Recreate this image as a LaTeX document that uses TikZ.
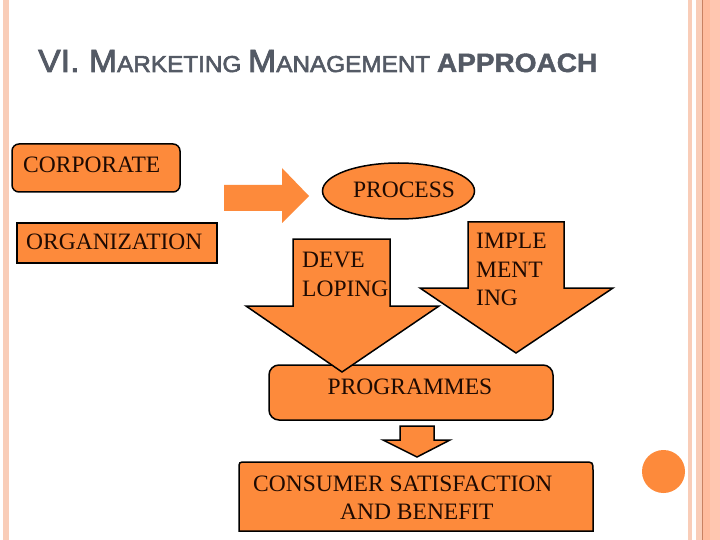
\documentclass[tikz,border=0pt]{standalone}
\usepackage{fontspec}
\usepackage{graphicx}
\setmainfont{Liberation Serif}
\newfontfamily\titlefont[FakeBold=2.5]{Liberation Sans}
\newfontfamily\titlebold[BoldFeatures={FakeBold=1.5}]{Liberation Sans}
\usetikzlibrary{shapes.geometric}
\definecolor{orng}{HTML}{FD8A3B}
\definecolor{txt}{HTML}{1E0A02}
\definecolor{ttl}{HTML}{545A65}
\definecolor{salA}{HTML}{F9CDB8}
\definecolor{salB}{HTML}{FFC6B0}
\definecolor{salC}{HTML}{FFBC9E}
\definecolor{salD}{HTML}{C98262}
\begin{document}
\begin{tikzpicture}[x=1pt,y=-1pt,
  box/.style={fill=orng,draw=black,line width=1.5pt},
  lbl/.style={font=\fontsize{23.5}{29}\selectfont,text=txt,inner sep=0pt}]
\useasboundingbox (0,0) rectangle (720,540);
\fill[white] (0,0) rectangle (720,540);
% page borders
\fill[salA] (3,0) rectangle (9,540);
\fill[salA] (688,0) rectangle (692,540);
\fill[salA] (696,0) rectangle (720,540);
\fill[salC] (703,0) rectangle (710,540);
\fill[salB] (710,0) rectangle (720,540);
\fill[salD] (701.8,0) rectangle (703,540);
\fill[orng] (663.5,471.5) circle (21.5pt);
% title
\node[anchor=base west,inner sep=0pt,text=ttl] (title) at (38,72)
 {\resizebox{559pt}{\height}{\titlefont\fontsize{32}{36}\selectfont VI. M\fontsize{23}{26}\selectfont ARKETING \fontsize{32}{36}\selectfont M\fontsize{23}{26}\selectfont ANAGEMENT \titlebold\bfseries\fontsize{26.5}{30}\selectfont APPROACH}};
% left boxes
\draw[box,rounded corners=7pt] (12,144) rectangle (180,192);
\node[lbl,anchor=base west] (corp) at (23,173) {CORPORATE};
\draw[box] (17,223) rectangle (217,263);
\node[lbl,anchor=base west] (org) at (26,249) {ORGANIZATION};
% right arrow
\fill[orng] (224,185) -- (282,185) -- (282,168) -- (309,196) -- (282,223) -- (282,211) -- (224,211) -- cycle;
% process
\node[box,ellipse,minimum width=152pt,minimum height=56pt,inner sep=0pt] (proc) at (398.5,191) {};
\node[lbl,anchor=base] (proct) at (404,197) {PROCESS};
% programmes box
\draw[box,rounded corners=10pt] (269,365) rectangle (553,420);
\node[lbl,anchor=base] (prog) at (410,394) {PROGRAMMES};
% developing arrow
\draw[box,line join=miter] (293,239) -- (390,239) -- (390,306) -- (439,306) -- (342,372) -- (246,306) -- (293,306) -- cycle;
\node[lbl,anchor=base west] (dev1) at (302,267) {DEVE};
\node[lbl,anchor=base west] (dev2) at (302,296) {LOPING};
% implementing arrow
\draw[box,line join=miter] (468,222) -- (564,222) -- (564,288) -- (613,288) -- (516,353) -- (420,288) -- (468,288) -- cycle;
\node[lbl,anchor=base west] (imp1) at (476,248) {IMPLE};
\node[lbl,anchor=base west] (imp2) at (476,277) {MENT};
\node[lbl,anchor=base west] (imp3) at (476,305) {ING};
% small arrow
\draw[box,line join=miter] (400,426) -- (434,426) -- (434,440) -- (450,440) -- (417,457) -- (383,440) -- (400,440) -- cycle;
% consumer box
\draw[box] (239,531) -- (239,469) .. controls (239,462) .. (246,462) -- (584,462) .. controls (593,462) .. (593,471) -- (593,531) -- cycle;
\node[lbl,anchor=base west] (cons1) at (253,491) {CONSUMER SATISFACTION};
\node[lbl,anchor=base west] (cons2) at (340,519) {AND BENEFIT};
\end{tikzpicture}
\end{document}
